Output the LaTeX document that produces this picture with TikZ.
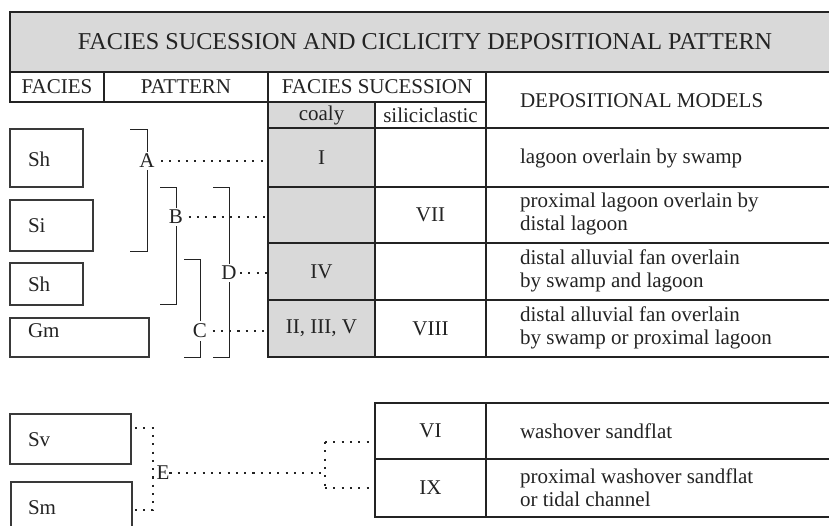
\documentclass[tikz,border=0pt]{standalone}
\usepackage{fontspec}
\setmainfont{Liberation Serif}
\definecolor{cellgray}{RGB}{217,217,217}
\definecolor{ink}{RGB}{35,35,35}
\tikzset{
  cell/.style={draw=ink, line width=1.3pt, anchor=north west, inner sep=0pt, outer sep=0pt, text=ink, font=\fontsize{21}{23}\selectfont},
  graycell/.style={cell, fill=cellgray},
  fbox/.style={draw=ink!90, line width=1.1pt, anchor=north west, inner sep=0pt, outer sep=0pt},
  txt/.style={inner sep=0pt, outer sep=0pt, text=ink, font=\fontsize{21}{23}\selectfont},
  desc/.style={txt, anchor=west, align=left},
  lbl/.style={txt, fill=white, inner xsep=0.5pt, inner ysep=2.5pt},
  brk/.style={draw=ink, line width=1pt},
  dots/.style={draw=ink, line width=2.1pt, dash pattern=on 2.1pt off 6.2pt},
}
\begin{document}
\begin{tikzpicture}[x=1pt,y=-1pt]
\useasboundingbox (0,0) rectangle (829,525);
\clip (0,0) rectangle (829,525);
% header
\node[graycell, minimum width=830pt, minimum height=60pt, font=\fontsize{24.2}{26}\selectfont] (hdr) at (10,12) {FACIES SUCESSION AND CICLICITY DEPOSITIONAL PATTERN};
\node[cell, minimum width=94pt, minimum height=30pt] (facH) at (10,72) {FACIES};
\node[cell, minimum width=164pt, minimum height=30pt] (patH) at (104,72) {PATTERN};
\node[cell, minimum width=218pt, minimum height=30pt] (fsH) at (268,72) {FACIES SUCESSION};
\node[graycell, minimum width=107pt, minimum height=26pt] (coalyH) at (268,102) {coaly};
\node[cell, minimum width=111pt, minimum height=26pt] (silH) at (375,102) {siliciclastic};
\node[cell, minimum width=360pt, minimum height=56pt] (dmH) at (486,72) {};
\node[desc] (dmT) at (520,101) {DEPOSITIONAL MODELS};
% rows
\node[graycell, minimum width=107pt, minimum height=59pt] (c1) at (268,128) {I};
\node[graycell, minimum width=107pt, minimum height=56pt] (c2) at (268,187) {};
\node[graycell, minimum width=107pt, minimum height=57pt] (c3) at (268,243) {IV};
\node[graycell, minimum width=107pt, minimum height=57pt] (c4) at (268,300) {II, III, V};
\node[cell, minimum width=111pt, minimum height=59pt] (s1) at (375,128) {};
\node[cell, minimum width=111pt, minimum height=56pt] (s2) at (375,187) {VII};
\node[cell, minimum width=111pt, minimum height=57pt] (s3) at (375,243) {};
\node[cell, minimum width=111pt, minimum height=57pt] (s4) at (375,300) {VIII};
\node[cell, minimum width=360pt, minimum height=59pt] (d1) at (486,128) {};
\node[cell, minimum width=360pt, minimum height=56pt] (d2) at (486,187) {};
\node[cell, minimum width=360pt, minimum height=57pt] (d3) at (486,243) {};
\node[cell, minimum width=360pt, minimum height=57pt] (d4) at (486,300) {};
\node[desc] (t1) at (520,158) {lagoon overlain by swamp};
\node[desc] (t2) at (520,214) {proximal lagoon overlain by\\distal lagoon};
\node[desc] (t3) at (520,271) {distal alluvial fan overlain\\by swamp and lagoon};
\node[desc] (t4) at (520,328) {distal alluvial fan overlain\\by swamp or proximal lagoon};
% bottom table
\node[cell, minimum width=111pt, minimum height=56pt] (vi) at (375,403) {VI};
\node[cell, minimum width=111pt, minimum height=58pt] (ix) at (375,459) {IX};
\node[cell, minimum width=360pt, minimum height=56pt] (vd) at (486,403) {};
\node[cell, minimum width=360pt, minimum height=58pt] (ixd) at (486,459) {};
\node[desc] (t5) at (520,431) {washover sandflat};
\node[desc] (t6) at (520,488) {proximal washover sandflat\\or tidal channel};
% facies boxes
\node[fbox, minimum width=73pt, minimum height=58pt] (sh1) at (10,129) {};
\node[fbox, minimum width=83pt, minimum height=51pt] (si) at (10,200) {};
\node[fbox, minimum width=73pt, minimum height=42pt] (sh2) at (10,263) {};
\node[fbox, minimum width=139pt, minimum height=39pt] (gm) at (10,318) {};
\node[fbox, minimum width=121pt, minimum height=50pt] (sv) at (10,414) {};
\node[fbox, minimum width=121pt, minimum height=60pt] (sm) at (11,482) {};
\node[txt, anchor=base west] (tsh1) at (28,166) {Sh};
\node[txt, anchor=base west] (tsi) at (28,232) {Si};
\node[txt, anchor=base west] (tsh2) at (28,291) {Sh};
\node[txt, anchor=base west] (tgm) at (28,337) {Gm};
\node[txt, anchor=base west] (tsv) at (28,446) {Sv};
\node[txt, anchor=base west] (tsm) at (28,514) {Sm};
% brackets
\draw[brk] (130,129) -- (147,129) -- (147,251) -- (130,251);
\draw[brk] (160,187) -- (176,187) -- (176,304) -- (160,304);
\draw[brk] (213,187) -- (229,187) -- (229,357) -- (213,357);
\draw[brk] (184,259) -- (200,259) -- (200,357) -- (184,357);
\node[lbl] (A) at (147,161) {A};
\node[lbl] (B) at (176,217) {B};
\node[lbl] (D) at (229,273) {D};
\node[lbl] (C) at (200,331) {C};
\draw[dots, shorten <=6pt] (A.east) -- (A.east -| c1.west);
\draw[dots, shorten <=5pt] (B.east) -- (B.east -| c2.west);
\draw[dots, shorten <=3pt] (D.east) -- (D.east -| c3.west);
\draw[dots, shorten <=5pt] (C.east) -- (C.east -| c4.west);
% E structure
\node[txt] (E) at (163,473) {E};
\coordinate (e1) at (135,428);
\coordinate (e2) at (135,510);
\coordinate (ej) at (325,473);
\coordinate (ej1) at (325,442);
\coordinate (ej2) at (325,488);
\draw[dots] (e1) -- (153,428) -- (153,510) -- (e2);
\draw[dots] (E.east) -- (ej);
\draw[dots] (ej1) -- (ej2);
\draw[dots] (ej1) -- (ej1 -| vi.west);
\draw[dots] (ej2) -- (ej2 -| ix.west);
\end{tikzpicture}
\end{document}
